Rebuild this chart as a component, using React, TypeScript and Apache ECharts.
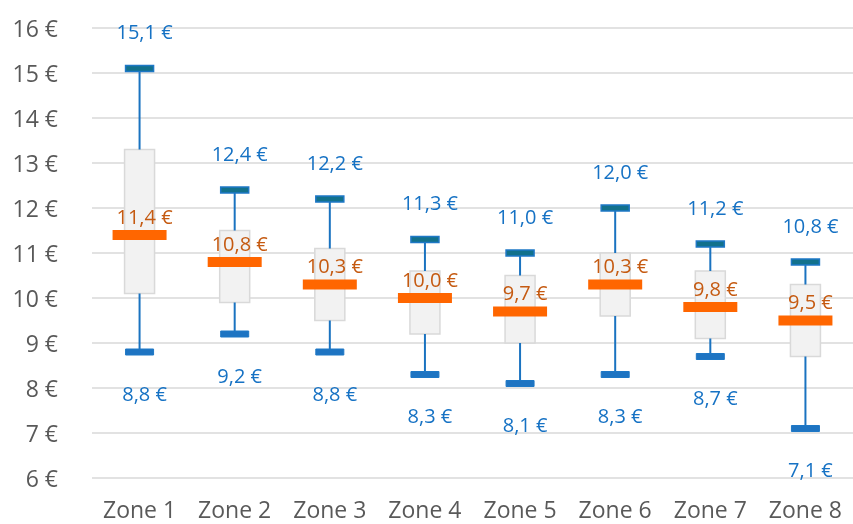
import React, { useEffect, useRef } from "react";
import * as echarts from "echarts";

const categories = ["Zone 1", "Zone 2", "Zone 3", "Zone 4", "Zone 5", "Zone 6", "Zone 7", "Zone 8"];
const minValues = [8.8, 9.2, 8.8, 8.3, 8.1, 8.3, 8.7, 7.1];
const q1Values = [10.1, 9.9, 9.5, 9.2, 9.0, 9.6, 9.1, 8.7];
const medianValues = [11.4, 10.8, 10.3, 10.0, 9.7, 10.3, 9.8, 9.5];
const q3Values = [13.3, 11.5, 11.1, 10.6, 10.5, 11.0, 10.6, 10.3];
const maxValues = [15.1, 12.4, 12.2, 11.3, 11.0, 12.0, 11.2, 10.8];

const FONT = "Open Sans";
const fmt = (v: number) => v.toFixed(1).replace(".", ",") + " €";

export default function App() {
  const ref = useRef<HTMLDivElement>(null);
  useEffect(() => {
    if (!ref.current) return;
    const chart = echarts.init(ref.current, null, { renderer: "svg" });
    const data = categories.map((_, i) => [i, minValues[i], q1Values[i], medianValues[i], q3Values[i], maxValues[i]]);
    const blue = "#1a73c0";
    const labelBlue = "#1672c4";
    const renderItem = (params: any, api: any) => {
      const idx = api.value(0);
      const vMin = api.value(1), vQ1 = api.value(2), vMed = api.value(3), vQ3 = api.value(4), vMax = api.value(5);
      const pMin = api.coord([idx, vMin]);
      const pQ1 = api.coord([idx, vQ1]);
      const pMed = api.coord([idx, vMed]);
      const pQ3 = api.coord([idx, vQ3]);
      const pMax = api.coord([idx, vMax]);
      const cx = pMed[0];
      const boxW = 30, capW = 28, capH = 6, medW = 54, medH = 10;
      const textStyle = (text: string, fill: string) => ({
        text,
        fill,
        fontSize: 20,
        fontFamily: FONT,
        align: "center",
        verticalAlign: "middle",
      });
      return {
        type: "group",
        children: [
          {
            type: "rect",
            shape: { x: cx - boxW / 2, y: pQ3[1], width: boxW, height: pQ1[1] - pQ3[1] },
            style: { fill: "#f2f2f2", stroke: "#d9d9d9", lineWidth: 1.5 },
          },
          {
            type: "line",
            shape: { x1: cx, y1: pQ3[1], x2: cx, y2: pMax[1] },
            style: { stroke: blue, lineWidth: 2 },
          },
          {
            type: "line",
            shape: { x1: cx, y1: pQ1[1], x2: cx, y2: pMin[1] },
            style: { stroke: blue, lineWidth: 2 },
          },
          {
            type: "rect",
            shape: { x: cx - capW / 2, y: pMax[1] - capH / 2, width: capW, height: capH },
            style: { fill: "#12718c", stroke: "#1e78c6", lineWidth: 1.5 },
          },
          {
            type: "rect",
            shape: { x: cx - capW / 2, y: pMin[1] - capH / 2, width: capW, height: capH },
            style: { fill: "#1e74c2", stroke: "#1e78c6", lineWidth: 1 },
          },
          {
            type: "rect",
            shape: { x: cx - medW / 2, y: pMed[1] - medH / 2, width: medW, height: medH },
            style: { fill: "#ff6600" },
          },
          { type: "text", x: cx + 5, y: pMax[1] - 37, style: textStyle(fmt(vMax), labelBlue) },
          { type: "text", x: cx + 5, y: pMin[1] + 41, style: textStyle(fmt(vMin), labelBlue) },
          { type: "text", x: cx + 5, y: pMed[1] - 19, style: textStyle(fmt(vMed), "#c55a11") },
        ],
      };
    };
    chart.setOption({
      animation: false,
      grid: { left: 92, right: -5, top: 28, bottom: 46, containLabel: false },
      xAxis: {
        type: "category",
        data: categories,
        axisLine: { show: false },
        axisTick: { show: false },
        axisLabel: { color: "#595959", fontSize: 23, fontFamily: FONT, margin: 19 },
      },
      yAxis: {
        type: "value",
        min: 6,
        max: 16,
        interval: 1,
        axisLine: { show: false },
        axisTick: { show: false },
        axisLabel: { color: "#595959", fontSize: 23, fontFamily: FONT, margin: 34, formatter: "{value} €" },
        splitLine: { lineStyle: { color: "#d9d9d9", width: 1.5 } },
      },
      series: [
        {
          type: "custom",
          renderItem,
          encode: { x: 0, y: [1, 2, 3, 4, 5] },
          data,
          clip: false,
        },
      ],
    });
    return () => chart.dispose();
  }, []);
  return <div ref={ref} style={{ position: "fixed", left: 0, top: 0, width: 853, height: 524 }} />;
}
